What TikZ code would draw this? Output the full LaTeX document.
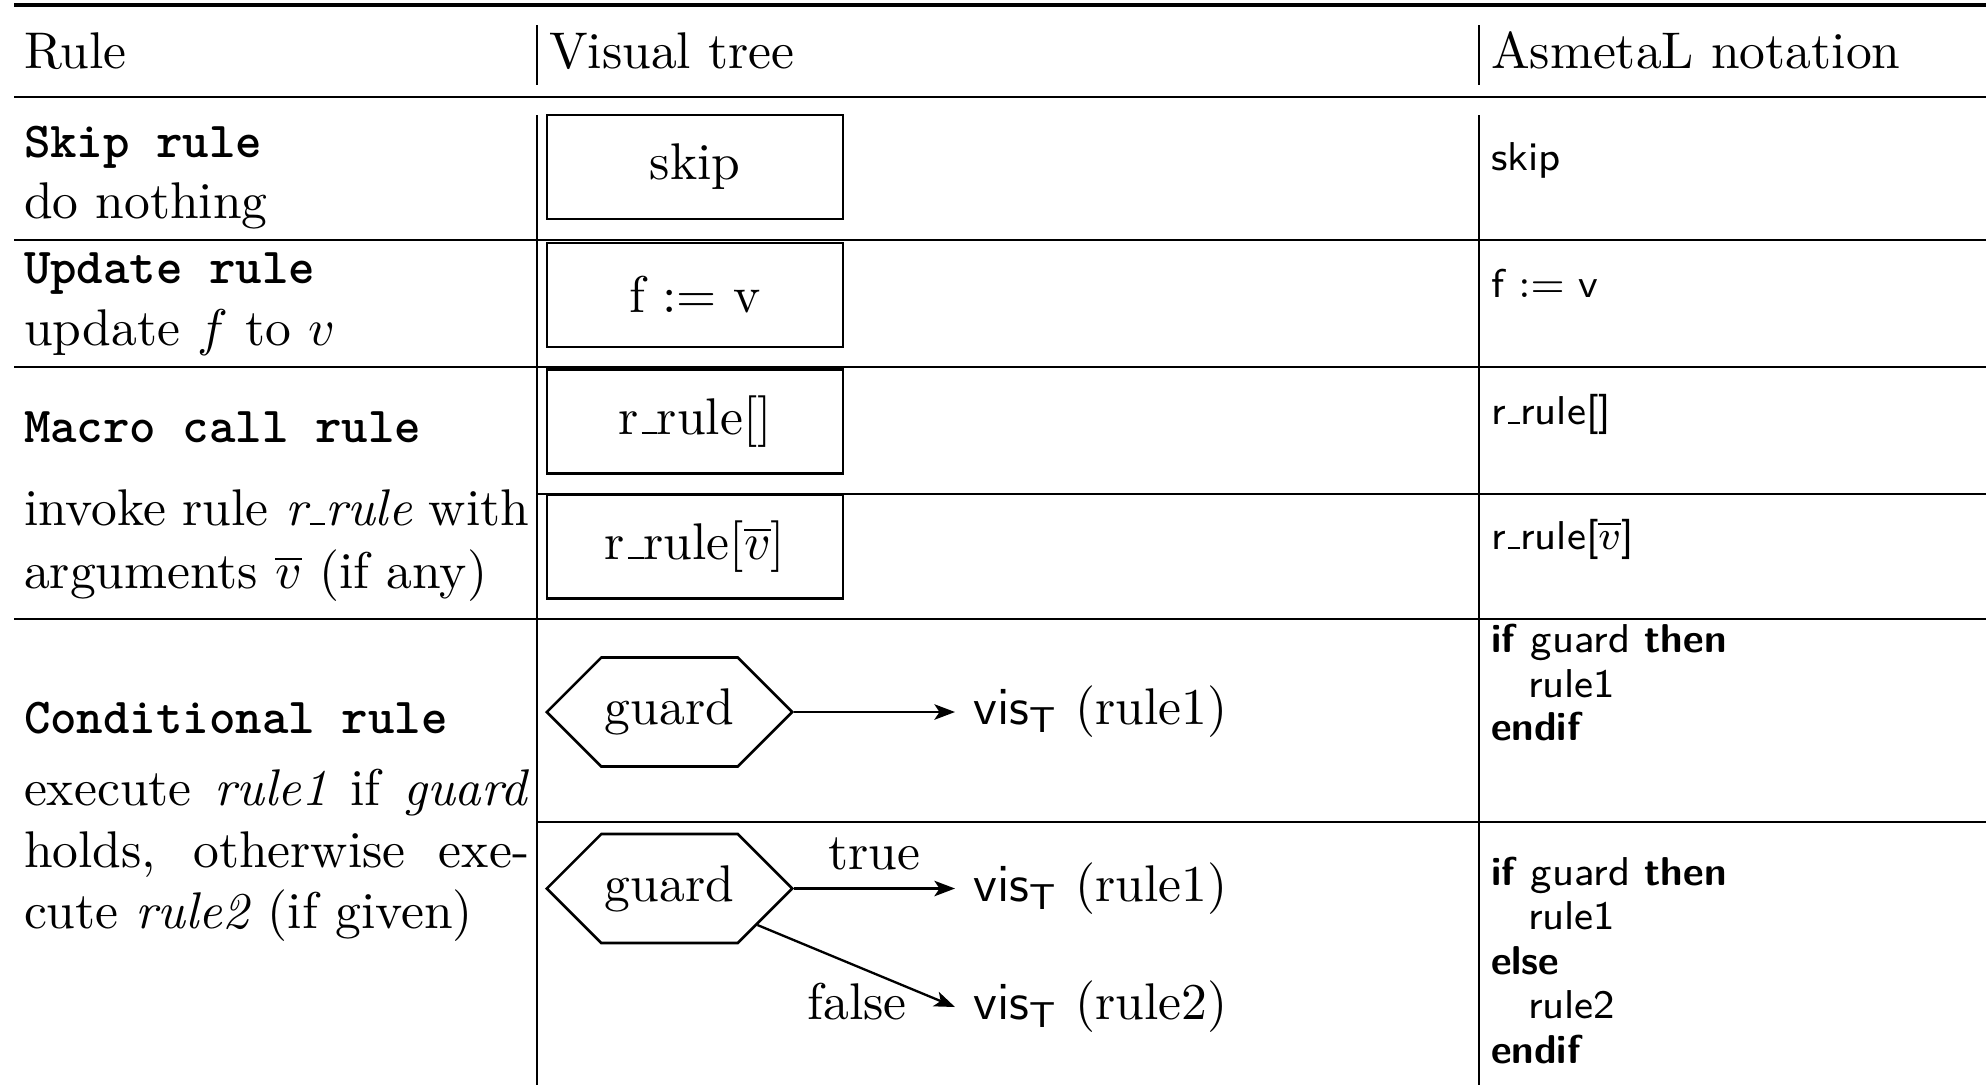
\documentclass[tikz,border=0pt]{standalone}
\usetikzlibrary{arrows.meta,shapes.symbols}

% font used for the AsmetaL column
\newcommand\asmfont{\fontsize{7.8}{9}\selectfont\sffamily}
\newcommand\rulename[1]{{\fontsize{9.77}{12}\selectfont\texttt{\bfseries #1}}}
\newcommand\visT{$\mathsf{vis}_{\mathsf{T}}$}
% short low dash, as in r_rule
\newcommand\lowdash{\leavevmode\kern.06em\vbox{\hrule width.3em}}

\tikzset{
  cell/.style={anchor=base west, inner sep=0pt},
  asm/.style={anchor=base west, inner sep=0pt, font=\asmfont},
  rulebox/.style={draw, line width=0.5pt, minimum width=57.4pt,
    minimum height=20.2pt, inner sep=0pt},
  guardhex/.style={draw, line width=0.5pt, shape=signal,
    signal to=west and east, signal pointer angle=90,
    inner xsep=0.7pt, inner ysep=6.06pt},
  visnode/.style={anchor=west},
  flow/.style={line width=0.45pt, -{Stealth[length=4pt,width=3pt,inset=1pt]}},
  toprl/.style={line width=0.8pt},
  midrl/.style={line width=0.5pt},
  hrl/.style={line width=0.4pt},
  vrl/.style={line width=0.4pt}
}

\begin{document}
\begin{tikzpicture}[x=0.1938pt, y=-0.1938pt]
\useasboundingbox (0,0) rectangle (1986,1085);

% table rules
\draw[toprl] (14,5) -- (1986,5);
\draw[midrl] (14,97) -- (1986,97);
\draw[hrl] (14,240) -- (1986,240);
\draw[hrl] (14,367) -- (1986,367);
\draw[hrl] (537,494) -- (1986,494);
\draw[hrl] (14,619) -- (1986,619);
\draw[hrl] (537,822) -- (1986,822);
\foreach \cx in {537,1479} {
  \draw[vrl] (\cx,25) -- (\cx,85);
  \draw[vrl] (\cx,115) -- (\cx,1085);
}

% header
\node[cell] (hRule) at (23,68) {Rule};
\node[cell] (hTree) at (548,68) {Visual tree};
\node[cell] (hAsm) at (1490,68) {AsmetaL notation};

% first column
\node[cell] (skipName) at (23,157) {\rulename{Skip rule}};
\node[cell] (skipDesc) at (23,218) {do nothing};
\node[cell] (updName) at (23,283) {\rulename{Update rule}};
\node[cell] (updDesc) at (23,345) {update $f$ to $v$};
\node[cell] (macName) at (23,442) {\rulename{Macro call rule}};
\node[cell] (macDescA) at (23,525) {\makebox[97.9pt][s]{invoke rule \emph{r\lowdash rule} with}};
\node[cell] (macDescB) at (23,588) {arguments $\overline{v}$ (if any)};
\node[cell] (condName) at (23,733) {\rulename{Conditional rule}};
\node[cell] (condDescA) at (23,805) {\makebox[97.9pt][s]{execute \emph{rule1} if \emph{guard}}};
\node[cell] (condDescB) at (23,867) {\makebox[97.9pt][s]{holds, otherwise exe-}};
\node[cell] (condDescC) at (23,928) {cute \emph{rule2} (if given)};

% visual trees
\node[rulebox] (bSkip) at (695,167) {skip};
\node[rulebox] (bUpd) at (695,295) {f $:=$ v};
\node[rulebox] (bCall) at (695,421.5) {r\lowdash rule[]};
\node[rulebox] (bCallArg) at (695,546.5) {r\lowdash rule[$\overline{v}$]};

\node[guardhex] (g1) at (669.5,712) {guard};
\node[visnode] (v1) at (955,712) {\visT{} (rule1)};
\draw[flow] (g1.east) -- (v1.west);

\node[guardhex] (g2) at (669.5,888.5) {guard};
\node[visnode] (v2) at (955,888.5) {\visT{} (rule1)};
\node[visnode] (v3) at (955,1007) {\visT{} (rule2)};
\draw[flow] (g2.east) -- node[above] (lTrue) {true} (v2.west);
\draw[flow] (g2) -- (v3.west)
  node[pos=1, anchor=base east, inner sep=0pt, xshift=-9.1pt, yshift=-2.5pt] (lFalse) {false};

% AsmetaL notation
\node[asm] (aSkip) at (1490,170) {skip};
\node[asm] (aUpd) at (1490,297) {f $:=$ v};
\node[asm] (aCall) at (1490,424) {r\lowdash rule[]};
\node[asm] (aCallArg) at (1490,549) {r\lowdash rule[$\overline{v}$]};

\node[asm] (aIfA) at (1490,652) {\textbf{if} guard \textbf{then}};
\node[asm] (aIfB) at (1527,697) {rule1};
\node[asm] (aIfC) at (1490,740) {\textbf{endif}};

\node[asm] (aElA) at (1490,885) {\textbf{if} guard \textbf{then}};
\node[asm] (aElB) at (1527,929) {rule1};
\node[asm] (aElC) at (1490,974) {\textbf{else}};
\node[asm] (aElD) at (1527,1018) {rule2};
\node[asm] (aElE) at (1490,1063) {\textbf{endif}};
\end{tikzpicture}
\end{document}
